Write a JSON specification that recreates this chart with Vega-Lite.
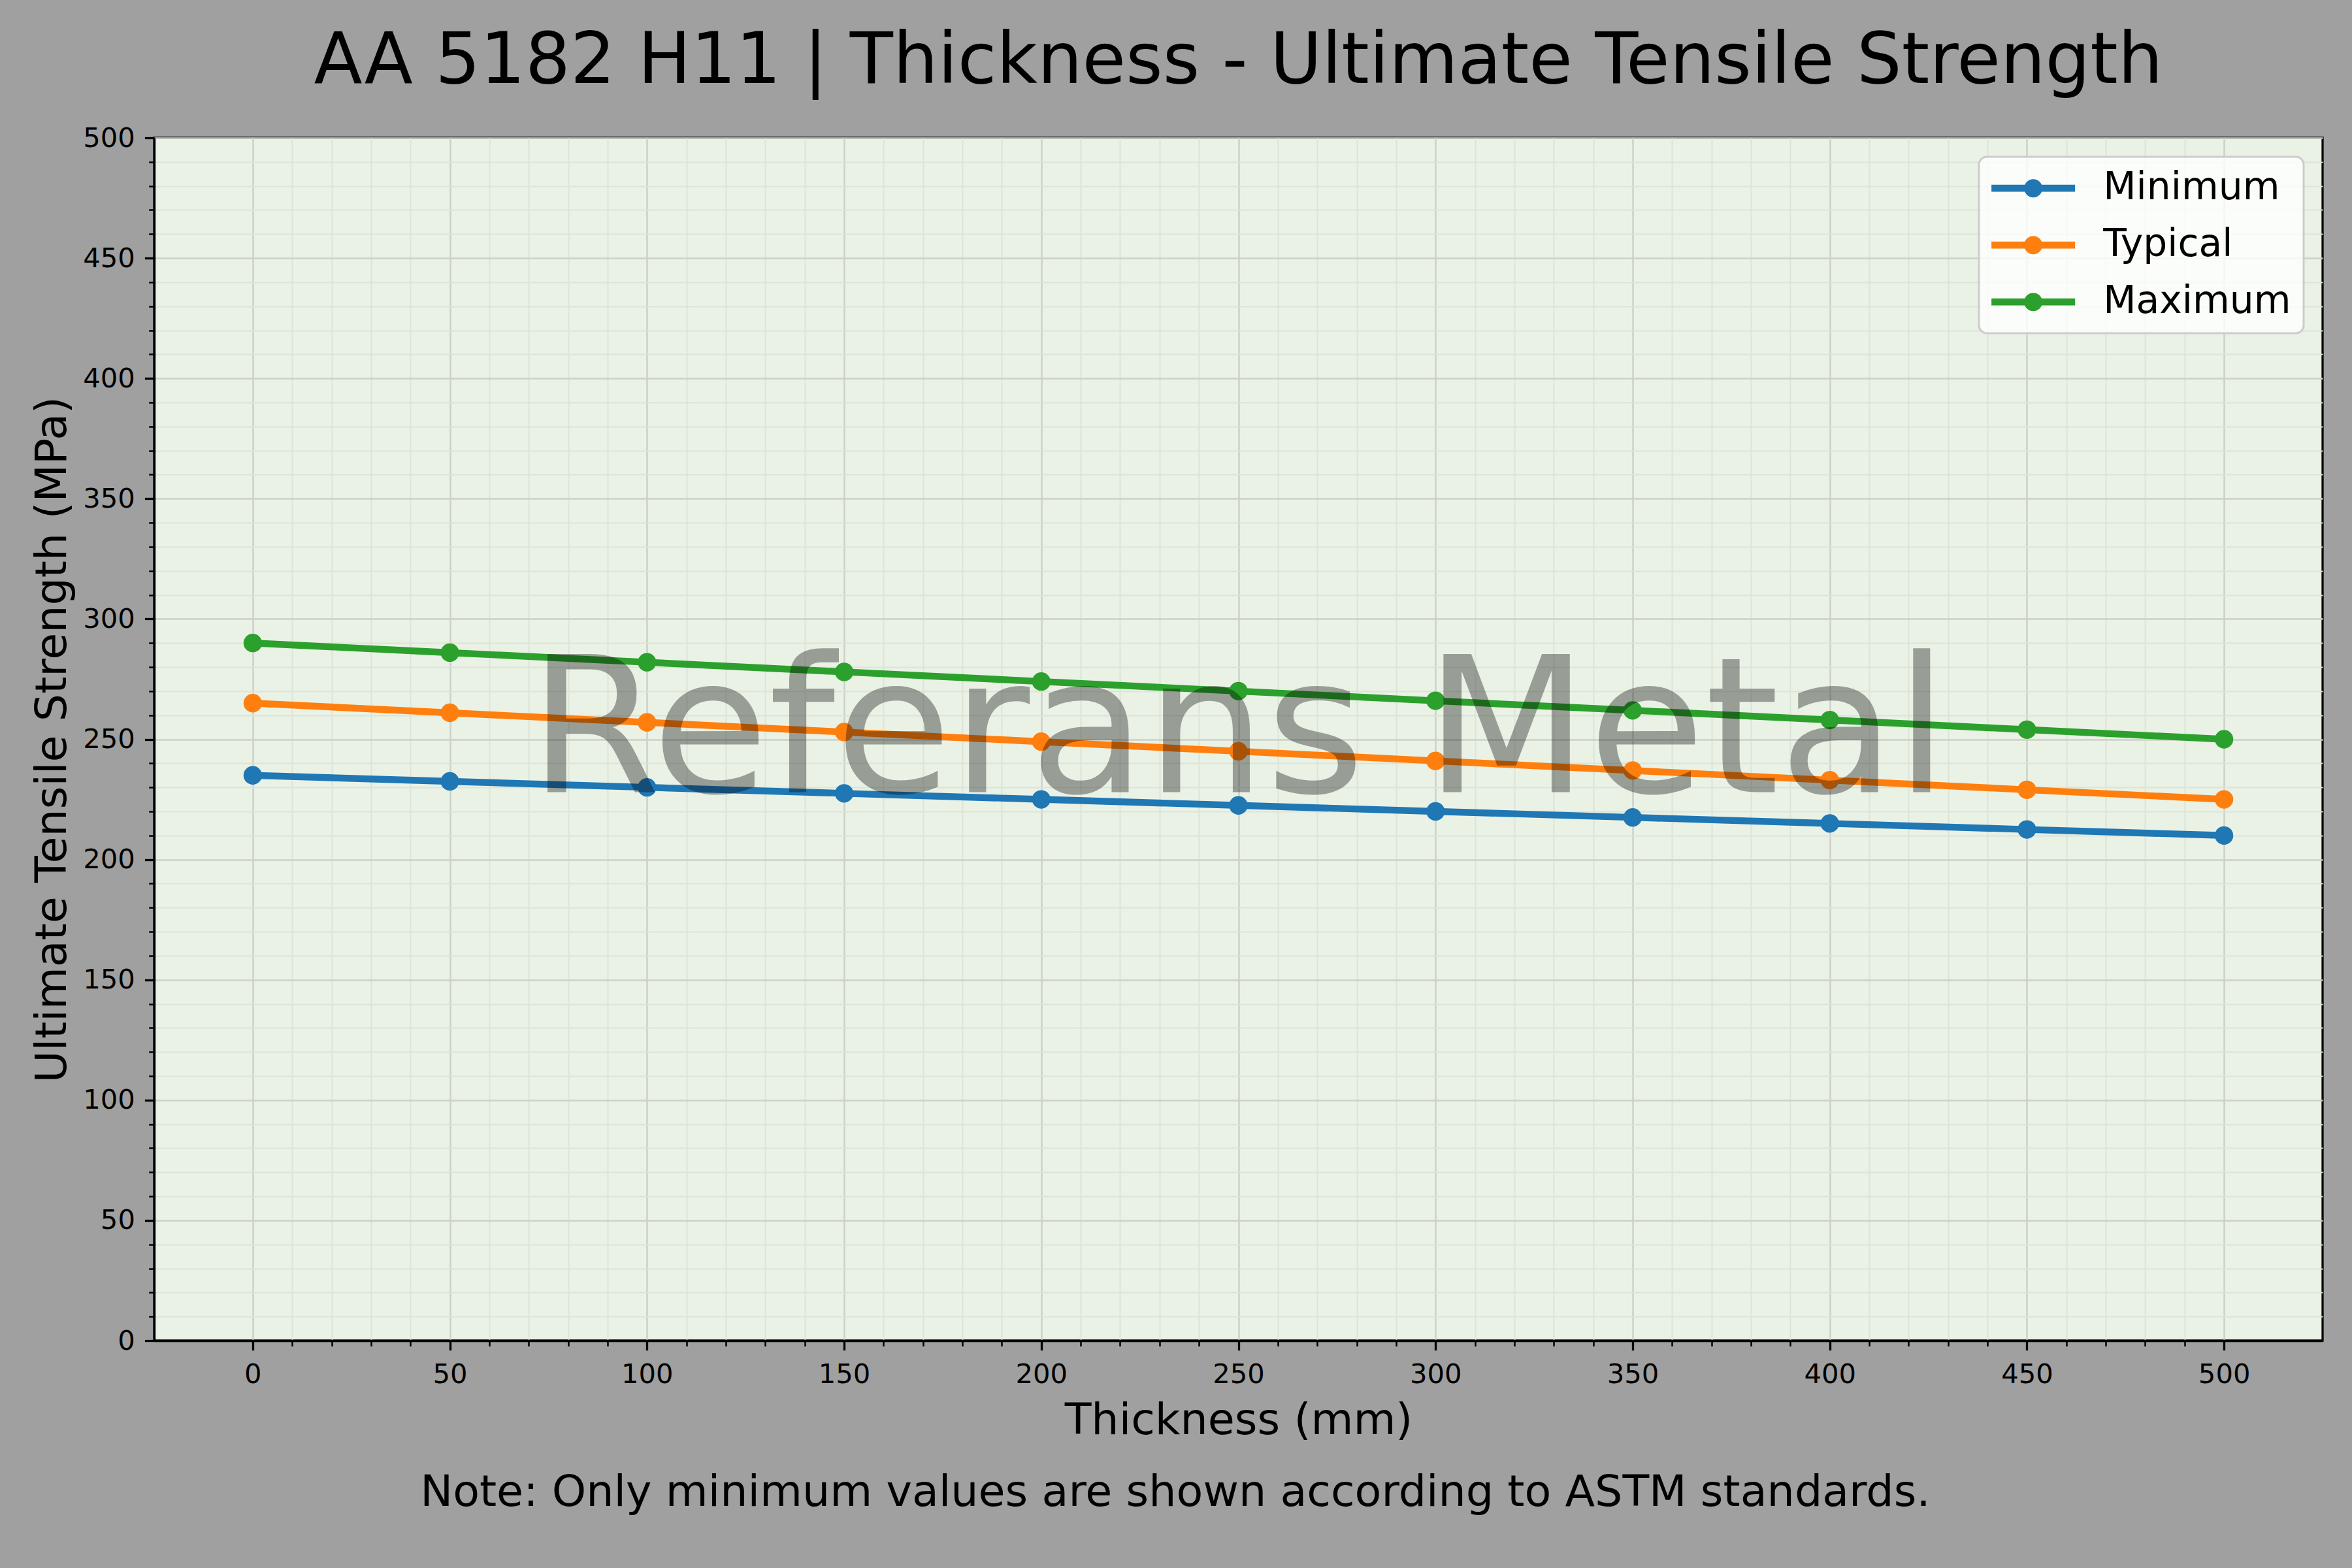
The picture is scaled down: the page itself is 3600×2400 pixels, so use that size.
{
  "$schema": "https://vega.github.io/schema/vega-lite/v6.json",
  "width": 3319,
  "height": 1841,
  "autosize": {"type": "none"},
  "padding": {"left": 236, "top": 211, "right": 45, "bottom": 348},
  "background": "#a0a0a0",
  "title": {
    "text": "AA 5182 H11 | Thickness - Ultimate Tensile Strength",
    "font": "DejaVu Sans",
    "fontSize": 108.3,
    "fontWeight": "normal",
    "color": "black",
    "anchor": "middle",
    "frame": "group",
    "baseline": "alphabetic",
    "offset": 0,
    "dy": 44
  },
  "data": {
    "values": [
      {"Thickness": 0, "Series": "Minimum", "UTS": 235},
      {"Thickness": 50, "Series": "Minimum", "UTS": 232.5},
      {"Thickness": 100, "Series": "Minimum", "UTS": 230},
      {"Thickness": 150, "Series": "Minimum", "UTS": 227.5},
      {"Thickness": 200, "Series": "Minimum", "UTS": 225},
      {"Thickness": 250, "Series": "Minimum", "UTS": 222.5},
      {"Thickness": 300, "Series": "Minimum", "UTS": 220},
      {"Thickness": 350, "Series": "Minimum", "UTS": 217.5},
      {"Thickness": 400, "Series": "Minimum", "UTS": 215},
      {"Thickness": 450, "Series": "Minimum", "UTS": 212.5},
      {"Thickness": 500, "Series": "Minimum", "UTS": 210},
      {"Thickness": 0, "Series": "Typical", "UTS": 265},
      {"Thickness": 50, "Series": "Typical", "UTS": 261},
      {"Thickness": 100, "Series": "Typical", "UTS": 257},
      {"Thickness": 150, "Series": "Typical", "UTS": 253},
      {"Thickness": 200, "Series": "Typical", "UTS": 249},
      {"Thickness": 250, "Series": "Typical", "UTS": 245},
      {"Thickness": 300, "Series": "Typical", "UTS": 241},
      {"Thickness": 350, "Series": "Typical", "UTS": 237},
      {"Thickness": 400, "Series": "Typical", "UTS": 233},
      {"Thickness": 450, "Series": "Typical", "UTS": 229},
      {"Thickness": 500, "Series": "Typical", "UTS": 225},
      {"Thickness": 0, "Series": "Maximum", "UTS": 290},
      {"Thickness": 50, "Series": "Maximum", "UTS": 286},
      {"Thickness": 100, "Series": "Maximum", "UTS": 282},
      {"Thickness": 150, "Series": "Maximum", "UTS": 278},
      {"Thickness": 200, "Series": "Maximum", "UTS": 274},
      {"Thickness": 250, "Series": "Maximum", "UTS": 270},
      {"Thickness": 300, "Series": "Maximum", "UTS": 266},
      {"Thickness": 350, "Series": "Maximum", "UTS": 262},
      {"Thickness": 400, "Series": "Maximum", "UTS": 258},
      {"Thickness": 450, "Series": "Maximum", "UTS": 254},
      {"Thickness": 500, "Series": "Maximum", "UTS": 250}
    ]
  },
  "layer": [
    {
      "data": {"values": [{}]},
      "mark": {"type": "text", "text": "", "fontSize": 10},
      "encoding": {
        "x": {
          "datum": 250, "type": "quantitative",
          "axis": {"orient": "bottom", "values": [10,20,30,40,60,70,80,90,110,120,130,140,160,170,180,190,210,220,230,240,260,270,280,290,310,320,330,340,360,370,380,390,410,420,430,440,460,470,480,490],
                   "labels": false, "domain": false, "title": null, "grid": true, "gridColor": "#dce3d8", "gridWidth": 2, "tickSize": 8.3, "tickWidth": 2.5, "tickColor": "black"}
        },
        "y": {
          "datum": 250, "type": "quantitative",
          "axis": {"orient": "left", "values": [10,20,30,40,60,70,80,90,110,120,130,140,160,170,180,190,210,220,230,240,260,270,280,290,310,320,330,340,360,370,380,390,410,420,430,440,460,470,480,490],
                   "labels": false, "domain": false, "title": null, "grid": true, "gridColor": "#dce3d8", "gridWidth": 2, "tickSize": 8.3, "tickWidth": 2.5, "tickColor": "black"}
        }
      }
    },
    {
      "mark": {"type": "line", "strokeWidth": 10.4, "strokeJoin": "round", "point": {"filled": true, "size": 800, "opacity": 1}},
      "encoding": {
        "x": {
          "field": "Thickness", "type": "quantitative",
          "scale": {"domain": [-25, 525], "nice": false, "zero": false},
          "axis": {"orient": "bottom", "values": [0,50,100,150,200,250,300,350,400,450,500], "title": "Thickness (mm)",
                   "grid": true, "gridColor": "#cbd1c8", "gridWidth": 2.5, "labelPadding": 17, "titlePadding": 16}
        },
        "y": {
          "field": "UTS", "type": "quantitative",
          "scale": {"domain": [0, 500], "nice": false},
          "axis": {"orient": "left", "values": [0,50,100,150,200,250,300,350,400,450,500], "title": "Ultimate Tensile Strength (MPa)",
                   "grid": true, "gridColor": "#cbd1c8", "gridWidth": 2.5, "labelPadding": 15, "titlePadding": 12}
        },
        "color": {
          "field": "Series", "type": "nominal",
          "scale": {"domain": ["Minimum", "Typical", "Maximum"], "range": ["#1f77b4", "#ff7f0e", "#2ca02c"]},
          "legend": {
            "title": null,
            "orient": "top-right",
            "offset": 29,
            "padding": 19,
            "fillColor": "rgba(255,255,255,0.8)",
            "strokeColor": "#cccccc",
            "cornerRadius": 12,
            "labelFont": "DejaVu Sans",
            "labelFontSize": 58.3,
            "labelColor": "black",
            "labelLimit": 1000,
            "labelOffset": 113,
            "symbolType": "M-1.036,-0.19H3.536V0.19H-1.036Z M1.75,0A0.5,0.5 0 1,1 0.75,0A0.5,0.5 0 1,1 1.75,0Z",
            "symbolSize": 3136,
            "symbolStrokeWidth": 0,
            "rowPadding": 28,
            "encode": {
              "symbols": {"update": {"fill": {"scale": "color", "field": "value"}, "fillOpacity": {"value": 1}, "strokeWidth": {"value": 0}}},
              "legend": {"update": {"strokeWidth": {"value": 3}}}
            }
          }
        },
        "order": {"field": "Thickness"}
      }
    },
    {
      "data": {"values": [{}]},
      "mark": {"type": "text", "text": "Referans Metal", "font": "DejaVu Sans", "fontSize": 290, "align": "center", "baseline": "alphabetic", "fill": "black", "fillOpacity": 0.35},
      "encoding": {
        "x": {"datum": 250, "type": "quantitative", "axis": null},
        "y": {"datum": 228, "type": "quantitative", "axis": null}
      }
    },
    {
      "data": {"values": [{}]},
      "mark": {"type": "text", "text": "Note: Only minimum values are shown according to ASTM standards.", "font": "DejaVu Sans", "fontSize": 66.7, "align": "center", "baseline": "alphabetic", "fill": "black"},
      "encoding": {
        "x": {"datum": 234, "type": "quantitative", "axis": null},
        "y": {"datum": -68.7, "type": "quantitative", "axis": null}
      }
    }
  ],
  "resolve": {"axis": {"x": "independent", "y": "independent"}},
  "config": {
    "view": {"fill": "#eaf2e6", "stroke": "black", "strokeWidth": 3.3},
    "axis": {
      "labelFont": "DejaVu Sans",
      "labelFontSize": 41.7,
      "labelColor": "black",
      "titleFont": "DejaVu Sans",
      "titleFontSize": 66.7,
      "titleFontWeight": "normal",
      "titleColor": "black",
      "domainColor": "black",
      "domainWidth": 3.3,
      "tickColor": "black",
      "tickWidth": 3.3,
      "tickSize": 14.6,
      "labelFlush": false,
      "labelOverlap": false
    }
  }
}
